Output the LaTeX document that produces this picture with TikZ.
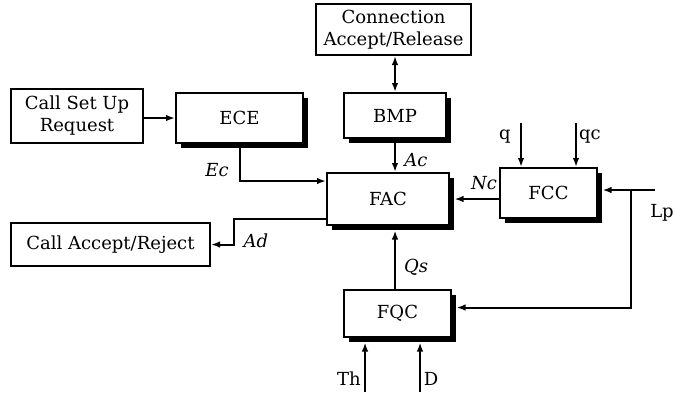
\documentclass[tikz,border=0pt]{standalone}
\usepackage{fontspec}
\setmainfont{DejaVu Serif}
\usetikzlibrary{arrows.meta,shadows,calc}

\begin{document}
\begin{tikzpicture}[x=1pt,y=-1pt,
    font=\fontsize{18}{22}\selectfont,
    line width=2pt,
    >={Latex[length=9pt,width=6.5pt]},
    plainbox/.style={draw,fill=white,align=center,inner sep=0pt},
    blockbox/.style={plainbox,drop shadow={shadow xshift=4.5pt,shadow yshift=-4.5pt,fill=black,opacity=1}},
    sig/.style={font=\fontsize{18}{22}\selectfont\itshape}]
  \useasboundingbox (0,0) rectangle (676,392);
  % blocks
  \node[plainbox,minimum width=155pt,minimum height=51pt] at (393.5,29.5) (conn) {Connection\\Accept/Release};
  \node[plainbox,minimum width=132pt,minimum height=54pt] at (77,116) (req) {Call Set Up\\Request};
  \node[plainbox,minimum width=199pt,minimum height=43pt] at (110.5,244.5) (rej) {Call Accept/Reject};
  \node[blockbox,minimum width=102pt,minimum height=45pt] at (395,115.5) (bmp) {BMP};
  \node[blockbox,minimum width=127pt,minimum height=50pt] at (239.5,118) (ece) {ECE};
  \node[blockbox,minimum width=122pt,minimum height=52pt] at (388,199) (fac) {FAC};
  \node[blockbox,minimum width=97pt,minimum height=50pt] at (548.5,193) (fcc) {FCC};
  \node[blockbox,minimum width=107pt,minimum height=47pt] at (397.5,313.5) (fqc) {FQC};
  % free ends
  \coordinate (q) at (521,123);
  \coordinate (qc) at (576,123);
  \coordinate (lp) at (655,190);
  \coordinate (jn) at (631,190);
  \coordinate (th) at (365,392);
  \coordinate (d) at (420,392);
  % connectors
  \draw[->] (ece.west -| req.east) -- (ece.west);
  \draw[->] (ece.south) |- ([yshift=18pt]fac.west);
  \draw[<->] (bmp.north) -- (bmp.north |- conn.south);
  \draw[->] (bmp.south) -- (bmp.south |- fac.north);
  \draw[->] (fcc.west |- fac.east) -- ([xshift=4.5pt]fac.east);
  \draw[->] (q) -- (q |- fcc.north);
  \draw[->] (qc) -- (qc |- fcc.north);
  \draw[->] (lp) -- ([xshift=4.5pt]lp -| fcc.east);
  \draw[->] (jn) |- ([xshift=4.5pt,yshift=6pt]fqc.east);
  \draw[->] (bmp.south |- fqc.north) -- ([yshift=-4.5pt]bmp.south |- fac.south);
  \draw[->] (th) -- ([yshift=-4.5pt]th |- fqc.south);
  \draw[->] (d) -- ([yshift=-4.5pt]d |- fqc.south);
  \draw[->] ([yshift=-20pt]fac.west) -- ++(-92,0) |- (rej.east);
  % labels
  \node[sig] at (217,170) (lec) {Ec};
  \node[sig] at (416,160) (lac) {Ac};
  \node[sig] at (484,183) (lnc) {Nc};
  \node[sig] at (416,267) (lqs) {Qs};
  \node[sig] at (256,241) (lad) {Ad};
  \node at (505,137) (lq) {q};
  \node at (590,137) (lqc) {qc};
  \node at (662,213) (llp) {Lp};
  \node at (349,379) (lth) {Th};
  \node at (431,379) (ld) {D};
\end{tikzpicture}
\end{document}
